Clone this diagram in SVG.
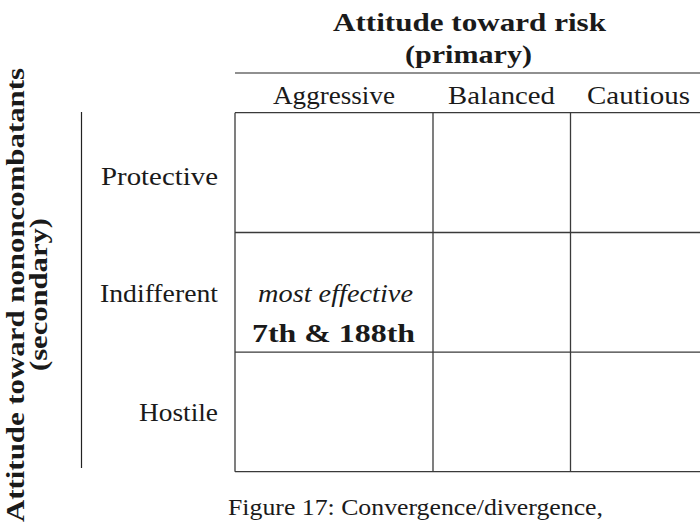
<svg xmlns="http://www.w3.org/2000/svg" width="700" height="529" viewBox="0 0 700 529">
<style>
text{font-family:"Liberation Serif","DejaVu Serif",serif;fill:#1a1a1a}
.r{font-size:26px}
.b{font-size:26px;font-weight:bold}
.i{font-size:26px;font-style:italic}
.c{font-size:23px}
.g{stroke:#3a3a3a;stroke-width:1.3;fill:none}
.rule{stroke:#222;stroke-width:1.2;fill:none}
</style>
<rect width="700" height="529" fill="#fff"/>
<g id="col-title">
<text class="b" x="333" y="31" textLength="273" lengthAdjust="spacingAndGlyphs">Attitude toward risk</text>
<text class="b" x="405" y="63" textLength="127" lengthAdjust="spacingAndGlyphs">(primary)</text>
<line class="rule" x1="235" y1="73" x2="700" y2="73"/>
</g>
<g id="col-headers">
<text class="r" x="273" y="103.5" textLength="122" lengthAdjust="spacingAndGlyphs">Aggressive</text>
<text class="r" x="448" y="103.5" textLength="107" lengthAdjust="spacingAndGlyphs">Balanced</text>
<text class="r" x="587" y="103.5" textLength="103" lengthAdjust="spacingAndGlyphs">Cautious</text>
</g>
<g id="row-title">
<text class="b" transform="translate(24,522) rotate(-90)" x="0" y="0" textLength="454" lengthAdjust="spacingAndGlyphs">Attitude toward nononcombatants</text>
<text class="b" transform="translate(47,371) rotate(-90)" x="0" y="0" textLength="153" lengthAdjust="spacingAndGlyphs">(secondary)</text>
<line class="rule" x1="81.5" y1="112" x2="81.5" y2="468"/>
</g>
<g id="row-headers">
<text class="r" x="101" y="185" textLength="117" lengthAdjust="spacingAndGlyphs">Protective</text>
<text class="r" x="100" y="302" textLength="118" lengthAdjust="spacingAndGlyphs">Indifferent</text>
<text class="r" x="139" y="421" textLength="79" lengthAdjust="spacingAndGlyphs">Hostile</text>
</g>
<g id="grid">
<line class="g" x1="235" y1="112.7" x2="700" y2="112.7"/>
<line class="g" x1="235" y1="232.5" x2="700" y2="232.5"/>
<line class="g" x1="235" y1="352.2" x2="700" y2="352.2"/>
<line class="g" x1="235" y1="471.7" x2="700" y2="471.7"/>
<line class="g" x1="235" y1="112.7" x2="235" y2="471.7"/>
<line class="g" x1="433" y1="112.7" x2="433" y2="471.7"/>
<line class="g" x1="570.5" y1="112.7" x2="570.5" y2="471.7"/>
</g>
<g id="cell-aggressive-indifferent">
<text class="i" x="258" y="302" textLength="155" lengthAdjust="spacingAndGlyphs">most effective</text>
<text class="b" x="252" y="342" textLength="163" lengthAdjust="spacingAndGlyphs">7th &amp; 188th</text>
</g>
<g id="caption">
<text class="c" x="228" y="515" textLength="375" lengthAdjust="spacingAndGlyphs">Figure 17: Convergence/divergence,</text>
</g>
</svg>
